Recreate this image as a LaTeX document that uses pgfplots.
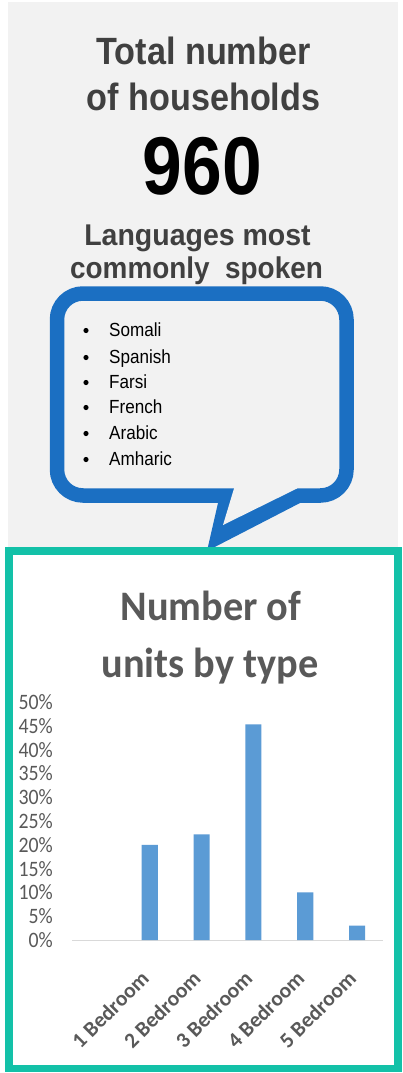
\documentclass[border=0pt]{standalone}
\usepackage{fontspec}
\setmainfont{Carlito}
\newfontfamily\arial{Liberation Sans}
\usepackage{pgfplots}
\pgfplotsset{compat=1.18}
\definecolor{panelgray}{HTML}{F2F2F2}
\definecolor{bubbleblue}{HTML}{1B6FC2}
\definecolor{frameteal}{HTML}{13C1A8}
\definecolor{titlegray}{HTML}{404040}
\definecolor{chartgray}{HTML}{595959}
\definecolor{barblue}{HTML}{5B9BD5}
\definecolor{axisgray}{HTML}{D9D9D9}
\begin{document}
\begin{tikzpicture}[x=1pt,y=-1pt]
\path[use as bounding box] (0,0) rectangle (402,1073);
\fill[panelgray] (8,2) rectangle (398,549);
% header texts
\node[anchor=base, text=titlegray, inner sep=0] at (203.5,64) {\arial\bfseries\fontsize{38}{38}\selectfont\scalebox{0.9}[1]{Total number}};
\node[anchor=base, text=titlegray, inner sep=0] at (203.5,110) {\arial\bfseries\fontsize{38}{38}\selectfont\scalebox{0.9}[1]{of households}};
\node[anchor=base, text=black, inner sep=0] at (202.5,194) {\arial\bfseries\fontsize{82}{82}\selectfont\scalebox{0.87}[1]{960}};
\node[anchor=base, text=titlegray, inner sep=0] at (197.5,245) {\arial\bfseries\fontsize{30}{30}\selectfont\scalebox{0.95}[1]{Languages most}};
\node[anchor=base, text=titlegray, inner sep=0] at (196.5,278) {\arial\bfseries\fontsize{30}{30}\selectfont\scalebox{0.93}[1]{commonly\ \ spoken}};
% speech bubble
\draw[bubbleblue, line width=14.5pt, fill=panelgray, rounded corners=26pt] (57,293.5) rectangle (346.5,495.5);
\fill[bubbleblue] (221,490) -- (218,503) -- (207,551) -- (300,503) -- (300,490) -- cycle;
\fill[panelgray] (234,480) -- (234,488.5) -- (223,525) -- (297,488.5) -- (297,480) -- cycle;
% list
\foreach \yy/\lang in {336/Somali, 363/Spanish, 388/Farsi, 413/French, 439/Arabic, 465/Amharic}{
  \fill[black] (86,\yy-5.5) circle (2.6);
  \node[anchor=base west, inner sep=0, text=black] at (109,\yy) {\arial\fontsize{19}{19}\selectfont\scalebox{0.9}[1]{\lang}};
}
% chart frame
\fill[white] (9,551) rectangle (398,1068.5);
\draw[frameteal, line width=7.5pt] (9,551) rectangle (398,1068.5);
\node[anchor=base, inner sep=0, text=chartgray] at (211,620) {\bfseries\fontsize{42}{42}\selectfont\scalebox{0.96}[1]{Number of}};
\node[anchor=base, inner sep=0, text=chartgray] at (210,677) {\bfseries\fontsize{42}{42}\selectfont\scalebox{0.96}[1]{units by type}};
\begin{axis}[
  at={(72pt,-940pt)}, anchor=south west,
  width=311pt, height=238pt, scale only axis,
  xmin=-0.5, xmax=5.5, ymin=0, ymax=50,
  axis x line*=bottom, axis y line*=left,
  x axis line style={draw=axisgray, line width=1pt, -},
  y axis line style={draw=none},
  tick style={draw=none}, major tick length=0pt,
  xtick={0,1,2,3,4,5},
  xticklabels={,1 Bedroom,2 Bedroom,3 Bedroom,4 Bedroom,5 Bedroom},
  xticklabel style={xshift=0.5pt, yshift=-40pt, rotate=45, anchor=base east, inner sep=0pt, font=\bfseries\fontsize{21.5}{21.5}\selectfont, text=chartgray},
  ytick={0,5,...,50},
  yticklabel={\scalebox{0.9}[1]{\pgfmathprintnumber{\tick}\%}},
  yticklabel style={anchor=east, inner sep=0pt, xshift=-19pt, font=\fontsize{22}{22}\selectfont, text=chartgray},
  /pgf/number format/assume math mode=true,
  clip=false,
]
\addplot[ybar, bar width=16pt, fill=barblue, draw=none] coordinates {(1,20) (2,22.2) (3,45.3) (4,10) (5,3)};
\end{axis}
\end{tikzpicture}
\end{document}
